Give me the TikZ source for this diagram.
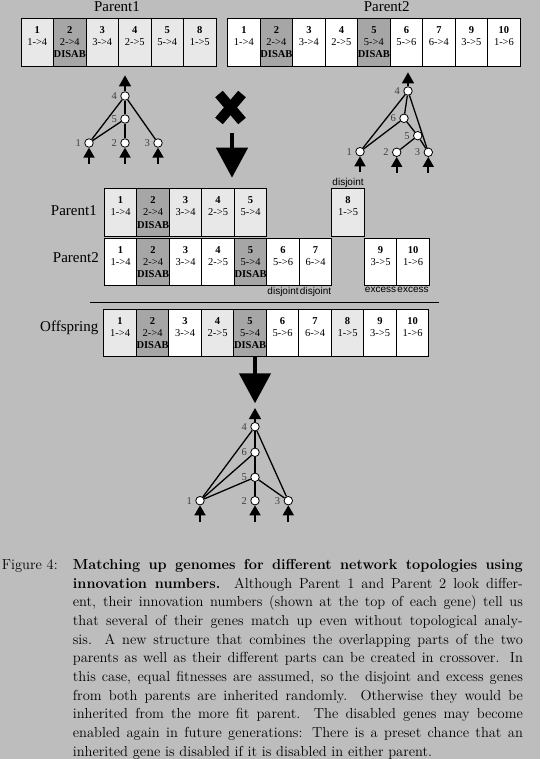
\documentclass[tikz,border=0pt]{standalone}
\usepackage{fontspec}
\newfontfamily\timesfont{Liberation Serif}
\newfontfamily\arialfont{Liberation Sans}
\usepackage{xcolor}
\usepackage{tikz}
\usetikzlibrary{arrows.meta,positioning}

\definecolor{pagegray}{gray}{0.74}
\definecolor{parentone}{gray}{0.91}
\definecolor{offgray}{gray}{0.65}

\newcommand{\gene}[2]{\textbf{#1}\\#2\\\mbox{}}
\newcommand{\disgene}[2]{\textbf{#1}\\#2\\\textbf{DISAB}}

\begin{document}
\begin{tikzpicture}[
  x=1pt, y=-1pt,
  genebox/.style={draw, line width=0.8pt, outer sep=0pt, inner sep=0pt,
                  minimum width=32.5pt, minimum height=47.5pt, align=center,
                  fill=white, font=\timesfont\fontsize{10.5}{12.3}\selectfont},
  p1genebox/.style={genebox, fill=parentone},
  disgenebox/.style={genebox, fill=offgray},
  rowlabel/.style={font=\timesfont\fontsize{15}{17}\selectfont},
  tag/.style={font=\arialfont\fontsize{10}{12}\selectfont, inner sep=1pt},
  neuron/.style={circle, draw, fill=white, line width=0.8pt, inner sep=0pt,
                 minimum size=8.5pt, label distance=2.5pt},
  every label/.style={font=\timesfont\fontsize{10.5}{12}\selectfont, text=black!75},
  link/.style={line width=1.3pt},
  inarrow/.style={-{Triangle[length=10pt,width=11pt]}, line width=1.8pt},
  outarrow/.style={-{Triangle[length=11pt,width=12pt]}, line width=1.5pt},
  bigarrow/.style={-{Triangle[length=30pt,width=31pt]}, line width=4.5pt},
  caption/.style={inner sep=0pt, anchor=north west,
                  font=\fontsize{14.5}{18.7}\selectfont}
]
  \path[use as bounding box, fill=pagegray] (0,0) rectangle (540,759);

  % parent 1 genome and network
  \node[rowlabel, anchor=base] (title1) at (117,12) {Parent1};
  \node[p1genebox, anchor=west] (a1) at (21,42.2) {\gene{1}{1->4}};
  \node[disgenebox, right=0pt of a1] (a2) {\disgene{2}{2->4}};
  \node[p1genebox, right=0pt of a2] (a3) {\gene{3}{3->4}};
  \node[p1genebox, right=0pt of a3] (a4) {\gene{4}{2->5}};
  \node[p1genebox, right=0pt of a4] (a5) {\gene{5}{5->4}};
  \node[p1genebox, right=0pt of a5] (a8) {\gene{8}{1->5}};

  \node[neuron, label=left:4] (p1n4) at (125,96) {};
  \node[neuron, label=left:5] (p1n5) at (125,119) {};
  \node[neuron, label=left:1] (p1n1) at (89,143) {};
  \node[neuron, label=left:2] (p1n2) at (125,143) {};
  \node[neuron, label=left:3] (p1n3) at (158,143) {};
  \draw[link] (p1n1) -- (p1n4);
  \draw[link] (p1n3) -- (p1n4);
  \draw[link] (p1n2) -- (p1n5);
  \draw[link] (p1n5) -- (p1n4);
  \draw[link] (p1n1) -- (p1n5);
  \coordinate[above=16pt of p1n4] (p1out);
  \draw[outarrow] (p1n4) -- (p1out);
  \coordinate[below=16pt of p1n1] (p1in1);
  \coordinate[below=16pt of p1n2] (p1in2);
  \coordinate[below=16pt of p1n3] (p1in3);
  \draw[inarrow] (p1in1) -- (p1n1);
  \draw[inarrow] (p1in2) -- (p1n2);
  \draw[inarrow] (p1in3) -- (p1n3);

  % parent 2 genome and network
  \node[rowlabel, anchor=base] (title2) at (386.7,12) {Parent2};
  \node[genebox, anchor=west] (b1) at (227.7,42.2) {\gene{1}{1->4}};
  \node[disgenebox, right=0pt of b1] (b2) {\disgene{2}{2->4}};
  \node[genebox, right=0pt of b2] (b3) {\gene{3}{3->4}};
  \node[genebox, right=0pt of b3] (b4) {\gene{4}{2->5}};
  \node[disgenebox, right=0pt of b4] (b5) {\disgene{5}{5->4}};
  \node[genebox, right=0pt of b5] (b6) {\gene{6}{5->6}};
  \node[genebox, right=0pt of b6] (b7) {\gene{7}{6->4}};
  \node[genebox, right=0pt of b7] (b9) {\gene{9}{3->5}};
  \node[genebox, right=0pt of b9] (b10) {\gene{10}{1->6}};

  \node[neuron, label=left:4] (p2n4) at (408,91) {};
  \node[neuron, label=left:6] (p2n6) at (404,118.3) {};
  \node[neuron, label=left:5] (p2n5) at (417.7,135.7) {};
  \node[neuron, label=left:1] (p2n1) at (360,151.7) {};
  \node[neuron, label=left:2] (p2n2) at (396.7,152.3) {};
  \node[neuron, label=left:3] (p2n3) at (428.3,152.3) {};
  \draw[link] (p2n1) -- (p2n4);
  \draw[link] (p2n3) -- (p2n4);
  \draw[link] (p2n2) -- (p2n5);
  \draw[link] (p2n5) -- (p2n6);
  \draw[link] (p2n6) -- (p2n4);
  \draw[link] (p2n3) -- (p2n5);
  \draw[link] (p2n1) -- (p2n6);
  \coordinate[above=14pt of p2n4] (p2out);
  \draw[outarrow] (p2n4) -- (p2out);
  \coordinate[below=16pt of p2n1] (p2in1);
  \coordinate[below=16pt of p2n2] (p2in2);
  \coordinate[below=16pt of p2n3] (p2in3);
  \draw[inarrow] (p2in1) -- (p2n1);
  \draw[inarrow] (p2in2) -- (p2n2);
  \draw[inarrow] (p2in3) -- (p2n3);

  % crossover sign
  \draw[line width=10pt] (219,94) -- (242,121);
  \draw[line width=10pt] (242,94) -- (219,121);
  \coordinate (cross) at (232,132.7);
  \coordinate (lineup) at (232,177.7);
  \draw[bigarrow] (cross) -- (lineup);

  % genomes lined up by innovation number
  \node[p1genebox, anchor=west] (c1) at (104.3,212.5) {\gene{1}{1->4}};
  \node[disgenebox, right=0pt of c1] (c2) {\disgene{2}{2->4}};
  \node[p1genebox, right=0pt of c2] (c3) {\gene{3}{3->4}};
  \node[p1genebox, right=0pt of c3] (c4) {\gene{4}{2->5}};
  \node[p1genebox, right=0pt of c4] (c5) {\gene{5}{5->4}};
  \node[p1genebox, right=65pt of c5] (c8) {\gene{8}{1->5}};
  \node[rowlabel, left=4pt of c1, yshift=1.5pt] (row1) {Parent1};
  \node[tag, above=0pt of c8] (dj8) {disjoint};

  \node[genebox, anchor=west] (d1) at (104.3,262) {\gene{1}{1->4}};
  \node[disgenebox, right=0pt of d1] (d2) {\disgene{2}{2->4}};
  \node[genebox, right=0pt of d2] (d3) {\gene{3}{3->4}};
  \node[genebox, right=0pt of d3] (d4) {\gene{4}{2->5}};
  \node[disgenebox, right=0pt of d4] (d5) {\disgene{5}{5->4}};
  \node[genebox, right=0pt of d5] (d6) {\gene{6}{5->6}};
  \node[genebox, right=0pt of d6] (d7) {\gene{7}{6->4}};
  \node[genebox, right=32.5pt of d7] (d9) {\gene{9}{3->5}};
  \node[genebox, right=0pt of d9] (d10) {\gene{10}{1->6}};
  \node[rowlabel, left=2pt of d1, yshift=4pt] (row2) {Parent2};
  \node[tag, below=0pt of d6] (dj6) {disjoint};
  \node[tag, below=0pt of d7] (dj7) {disjoint};
  \node[tag, below=0pt of d9] (ex9) {excess};
  \node[tag, below=0pt of d10] (ex10) {excess};

  \coordinate (ruleL) at (90,302.7);
  \coordinate (ruleR) at (439.3,302.7);
  \draw[line width=0.8pt] (ruleL) -- (ruleR);

  % offspring genome and network
  \node[p1genebox, anchor=west] (e1) at (103.8,333) {\gene{1}{1->4}};
  \node[disgenebox, right=0pt of e1] (e2) {\disgene{2}{2->4}};
  \node[genebox, right=0pt of e2] (e3) {\gene{3}{3->4}};
  \node[p1genebox, right=0pt of e3] (e4) {\gene{4}{2->5}};
  \node[disgenebox, right=0pt of e4] (e5) {\disgene{5}{5->4}};
  \node[genebox, right=0pt of e5] (e6) {\gene{6}{5->6}};
  \node[genebox, right=0pt of e6] (e7) {\gene{7}{6->4}};
  \node[p1genebox, right=0pt of e7] (e8) {\gene{8}{1->5}};
  \node[genebox, right=0pt of e8] (e9) {\gene{9}{3->5}};
  \node[genebox, right=0pt of e9] (e10) {\gene{10}{1->6}};
  \node[rowlabel, left=2pt of e1, yshift=5pt] (row3) {Offspring};

  \coordinate (offtop) at (255,357);
  \coordinate (offnet) at (255,403.3);
  \draw[bigarrow] (offtop) -- (offnet);

  \node[neuron, label=left:4] (on4) at (255,426.7) {};
  \node[neuron, label=left:6] (on6) at (255,452.3) {};
  \node[neuron, label=left:5] (on5) at (255,477.3) {};
  \node[neuron, label=left:1] (on1) at (200,500.7) {};
  \node[neuron, label=left:2] (on2) at (255,500.7) {};
  \node[neuron, label=left:3] (on3) at (288.3,500.7) {};
  \draw[link] (on1) -- (on4);
  \draw[link] (on3) -- (on4);
  \draw[link] (on2) -- (on5);
  \draw[link] (on5) -- (on6);
  \draw[link] (on6) -- (on4);
  \draw[link] (on1) -- (on5);
  \draw[link] (on3) -- (on5);
  \draw[link] (on1) -- (on6);
  \coordinate[above=14pt of on4] (onout);
  \draw[outarrow] (on4) -- (onout);
  \coordinate[below=17pt of on1] (onin1);
  \coordinate[below=17pt of on2] (onin2);
  \coordinate[below=17pt of on3] (onin3);
  \draw[inarrow] (onin1) -- (on1);
  \draw[inarrow] (onin2) -- (on2);
  \draw[inarrow] (onin3) -- (on3);

  % caption
  \node[caption] (figlabel) at (1.7,559) {Figure 4:};
  \node[caption, text width=450pt, align=justify] (figtext) at (72.7,559)
    {\tolerance=10000
     \textbf{Matching up genomes for different network topologies using\linebreak
     innovation numbers.}\ \ Although Parent 1 and Parent 2 look differ-\linebreak
     ent, their innovation numbers (shown at the top of each gene) tell us\linebreak
     that several of their genes match up even without topological analy-\linebreak
     sis. A new structure that combines the overlapping parts of the two\linebreak
     parents as well as their different parts can be created in crossover. In\linebreak
     this case, equal fitnesses are assumed, so the disjoint and excess genes\linebreak
     from both parents are inherited randomly. Otherwise they would be\linebreak
     inherited from the more fit parent. The disabled genes may become\linebreak
     enabled again in future generations: There is a preset chance that an\linebreak
     inherited gene is disabled if it is disabled in either parent.};
\end{tikzpicture}
\end{document}
